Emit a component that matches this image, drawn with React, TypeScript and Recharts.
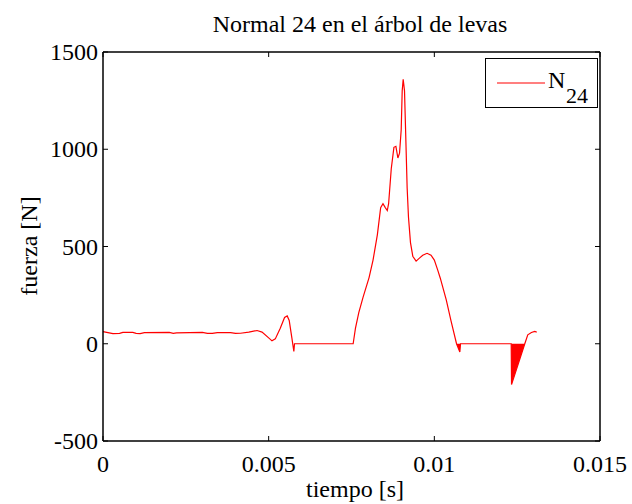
import { ComposedChart, Line, Area, XAxis, YAxis } from "recharts";

// Data (time in s, force in N)
const time = [
  0, 0.00015, 0.0003, 0.0005, 0.0006, 0.0009, 0.001, 0.00112, 0.00125, 0.002,
  0.00212, 0.00222, 0.003, 0.00315, 0.0033, 0.00345, 0.00385, 0.004, 0.00415,
  0.0044, 0.00465, 0.0048, 0.005, 0.0051, 0.0052, 0.00535, 0.00548, 0.00556,
  0.00562, 0.0057, 0.00576, 0.00578, 0.00755, 0.00762, 0.00772, 0.00785,
  0.00803, 0.00815, 0.00828, 0.00838, 0.00845, 0.00852, 0.00858, 0.00862,
  0.0087, 0.00878, 0.00884, 0.0089, 0.00895, 0.009, 0.00903, 0.00906, 0.0091,
  0.00914, 0.00918, 0.00922, 0.00928, 0.00935, 0.00945, 0.00955, 0.00965,
  0.00978, 0.0099, 0.01, 0.0101, 0.01018, 0.01036, 0.0105, 0.01067, 0.01077,
  0.01079, 0.01232, 0.01233, 0.01273, 0.01282, 0.01293, 0.01303, 0.01309,
];
const force = [
  62, 57, 52, 53, 58, 58, 53, 52, 57, 58, 53, 56, 58, 53, 53, 57, 57, 53, 54,
  60, 68, 60, 30, 15, 25, 80, 135, 143, 120, 30, -40, 0, 0, 80, 160, 240, 340,
  430, 560, 700, 720, 700, 685, 720, 900, 1010, 1015, 955, 980, 1100, 1300,
  1360, 1300, 1050, 800, 650, 520, 450, 425, 440, 455, 465, 455, 430, 380, 337,
  226, 120, 0, -42, 0, 0, -210, 0, 46, 58, 63, 60,
];
// windows where the signal oscillates fast and shows as a filled patch
const fillStart = [0.01067, 0.01232];
const fillEnd = [0.01079, 0.01273];

const xTicks = [0, 0.005, 0.01, 0.015];
const yTicks = [-500, 0, 500, 1000, 1500];

const data = time.map((t, i) => {
  const inFill = fillStart.some((s, k) => t >= s && t <= fillEnd[k]);
  return { t, f: force[i], neg: inFill ? force[i] : null };
});

const FONT = '"Liberation Serif", "Times New Roman", serif';

const BottomTick = (p: any) => (
  <g>
    <line x1={p.x} y1={p.y} x2={p.x} y2={p.y - 5} stroke="#000" />
    <text x={p.x} y={p.y + 31} textAnchor="middle" fontSize={24} fontFamily={FONT} fill="#000">
      {p.payload.value}
    </text>
  </g>
);

const LeftTick = (p: any) => (
  <g>
    <line x1={p.x} y1={p.y} x2={p.x + 5} y2={p.y} stroke="#000" />
    <text x={p.x - 5} y={p.y + 8} textAnchor="end" fontSize={24} fontFamily={FONT} fill="#000">
      {p.payload.value}
    </text>
  </g>
);

const TopTick = (p: any) => (
  <line x1={p.x} y1={p.y} x2={p.x} y2={p.y + 5} stroke="#000" />
);

const RightTick = (p: any) => (
  <line x1={p.x} y1={p.y} x2={p.x - 5} y2={p.y} stroke="#000" />
);

export default function App() {
  return (
    <div
      style={{
        position: "absolute",
        left: 0,
        top: 0,
        width: 632,
        height: 504,
        background: "#fff",
        fontFamily: FONT,
      }}
    >
      <ComposedChart
        width={632}
        height={504}
        data={data}
        margin={{ top: 51, right: 31, bottom: 0, left: 0 }}
      >
        <XAxis
          dataKey="t"
          type="number"
          domain={[0, 0.015]}
          ticks={xTicks}
          height={63}
          tickSize={0}
          tickMargin={0}
          tickLine={false}
          tick={<BottomTick />}
          axisLine={{ stroke: "#000", strokeWidth: 1.5 }}
          interval={0}
        />
        <XAxis
          xAxisId="top"
          dataKey="t"
          orientation="top"
          type="number"
          domain={[0, 0.015]}
          ticks={xTicks}
          height={1}
          tickSize={0}
          tickMargin={0}
          tickLine={false}
          tick={<TopTick />}
          axisLine={{ stroke: "#000", strokeWidth: 1.5 }}
          interval={0}
        />
        <YAxis
          type="number"
          domain={[-500, 1500]}
          ticks={yTicks}
          width={103}
          tickSize={0}
          tickMargin={0}
          tickLine={false}
          tick={<LeftTick />}
          axisLine={{ stroke: "#000", strokeWidth: 1.5 }}
          interval={0}
        />
        <YAxis
          yAxisId="right"
          orientation="right"
          type="number"
          domain={[-500, 1500]}
          ticks={yTicks}
          width={1}
          tickSize={0}
          tickMargin={0}
          tickLine={false}
          tick={<RightTick />}
          axisLine={{ stroke: "#000", strokeWidth: 1.5 }}
          interval={0}
        />
        {/* invisible copy so the mirrored top/right axes have a series */}
        <Line
          xAxisId="top"
          yAxisId="right"
          type="linear"
          dataKey="f"
          stroke="none"
          dot={false}
          activeDot={false}
          isAnimationActive={false}
        />
        <Area
          type="linear"
          dataKey="neg"
          stroke="none"
          fill="#ff0000"
          fillOpacity={1}
          baseValue={0}
          connectNulls={false}
          dot={false}
          activeDot={false}
          isAnimationActive={false}
        />
        <Line
          type="linear"
          dataKey="f"
          stroke="#ff0000"
          strokeWidth={1.2}
          dot={false}
          activeDot={false}
          isAnimationActive={false}
        />
      </ComposedChart>

      {/* Title, axis labels and legend */}
      <svg
        width={632}
        height={504}
        style={{ position: "absolute", left: 0, top: 0, pointerEvents: "none" }}
        fontFamily={FONT}
      >
        <text x={360} y={32} textAnchor="middle" fontSize={24} fill="#000">
          Normal 24 en el árbol de levas
        </text>
        <text x={355} y={497} textAnchor="middle" fontSize={24} fill="#000">
          tiempo [s]
        </text>
        <text
          x={0}
          y={0}
          transform="translate(37 246) rotate(-90)"
          textAnchor="middle"
          fontSize={24}
          fill="#000"
        >
          fuerza [N]
        </text>

        <rect x={485.5} y={58.5} width={112} height={49} fill="#fff" stroke="#000" strokeWidth={1} />
        <line x1={497} y1={83} x2={545} y2={83} stroke="#ff0000" strokeWidth={1.2} />
        <text x={548} y={88} fontSize={24} fill="#000">
          N
        </text>
        <text x={566} y={103} fontSize={22} fill="#000">
          24
        </text>
      </svg>
    </div>
  );
}
